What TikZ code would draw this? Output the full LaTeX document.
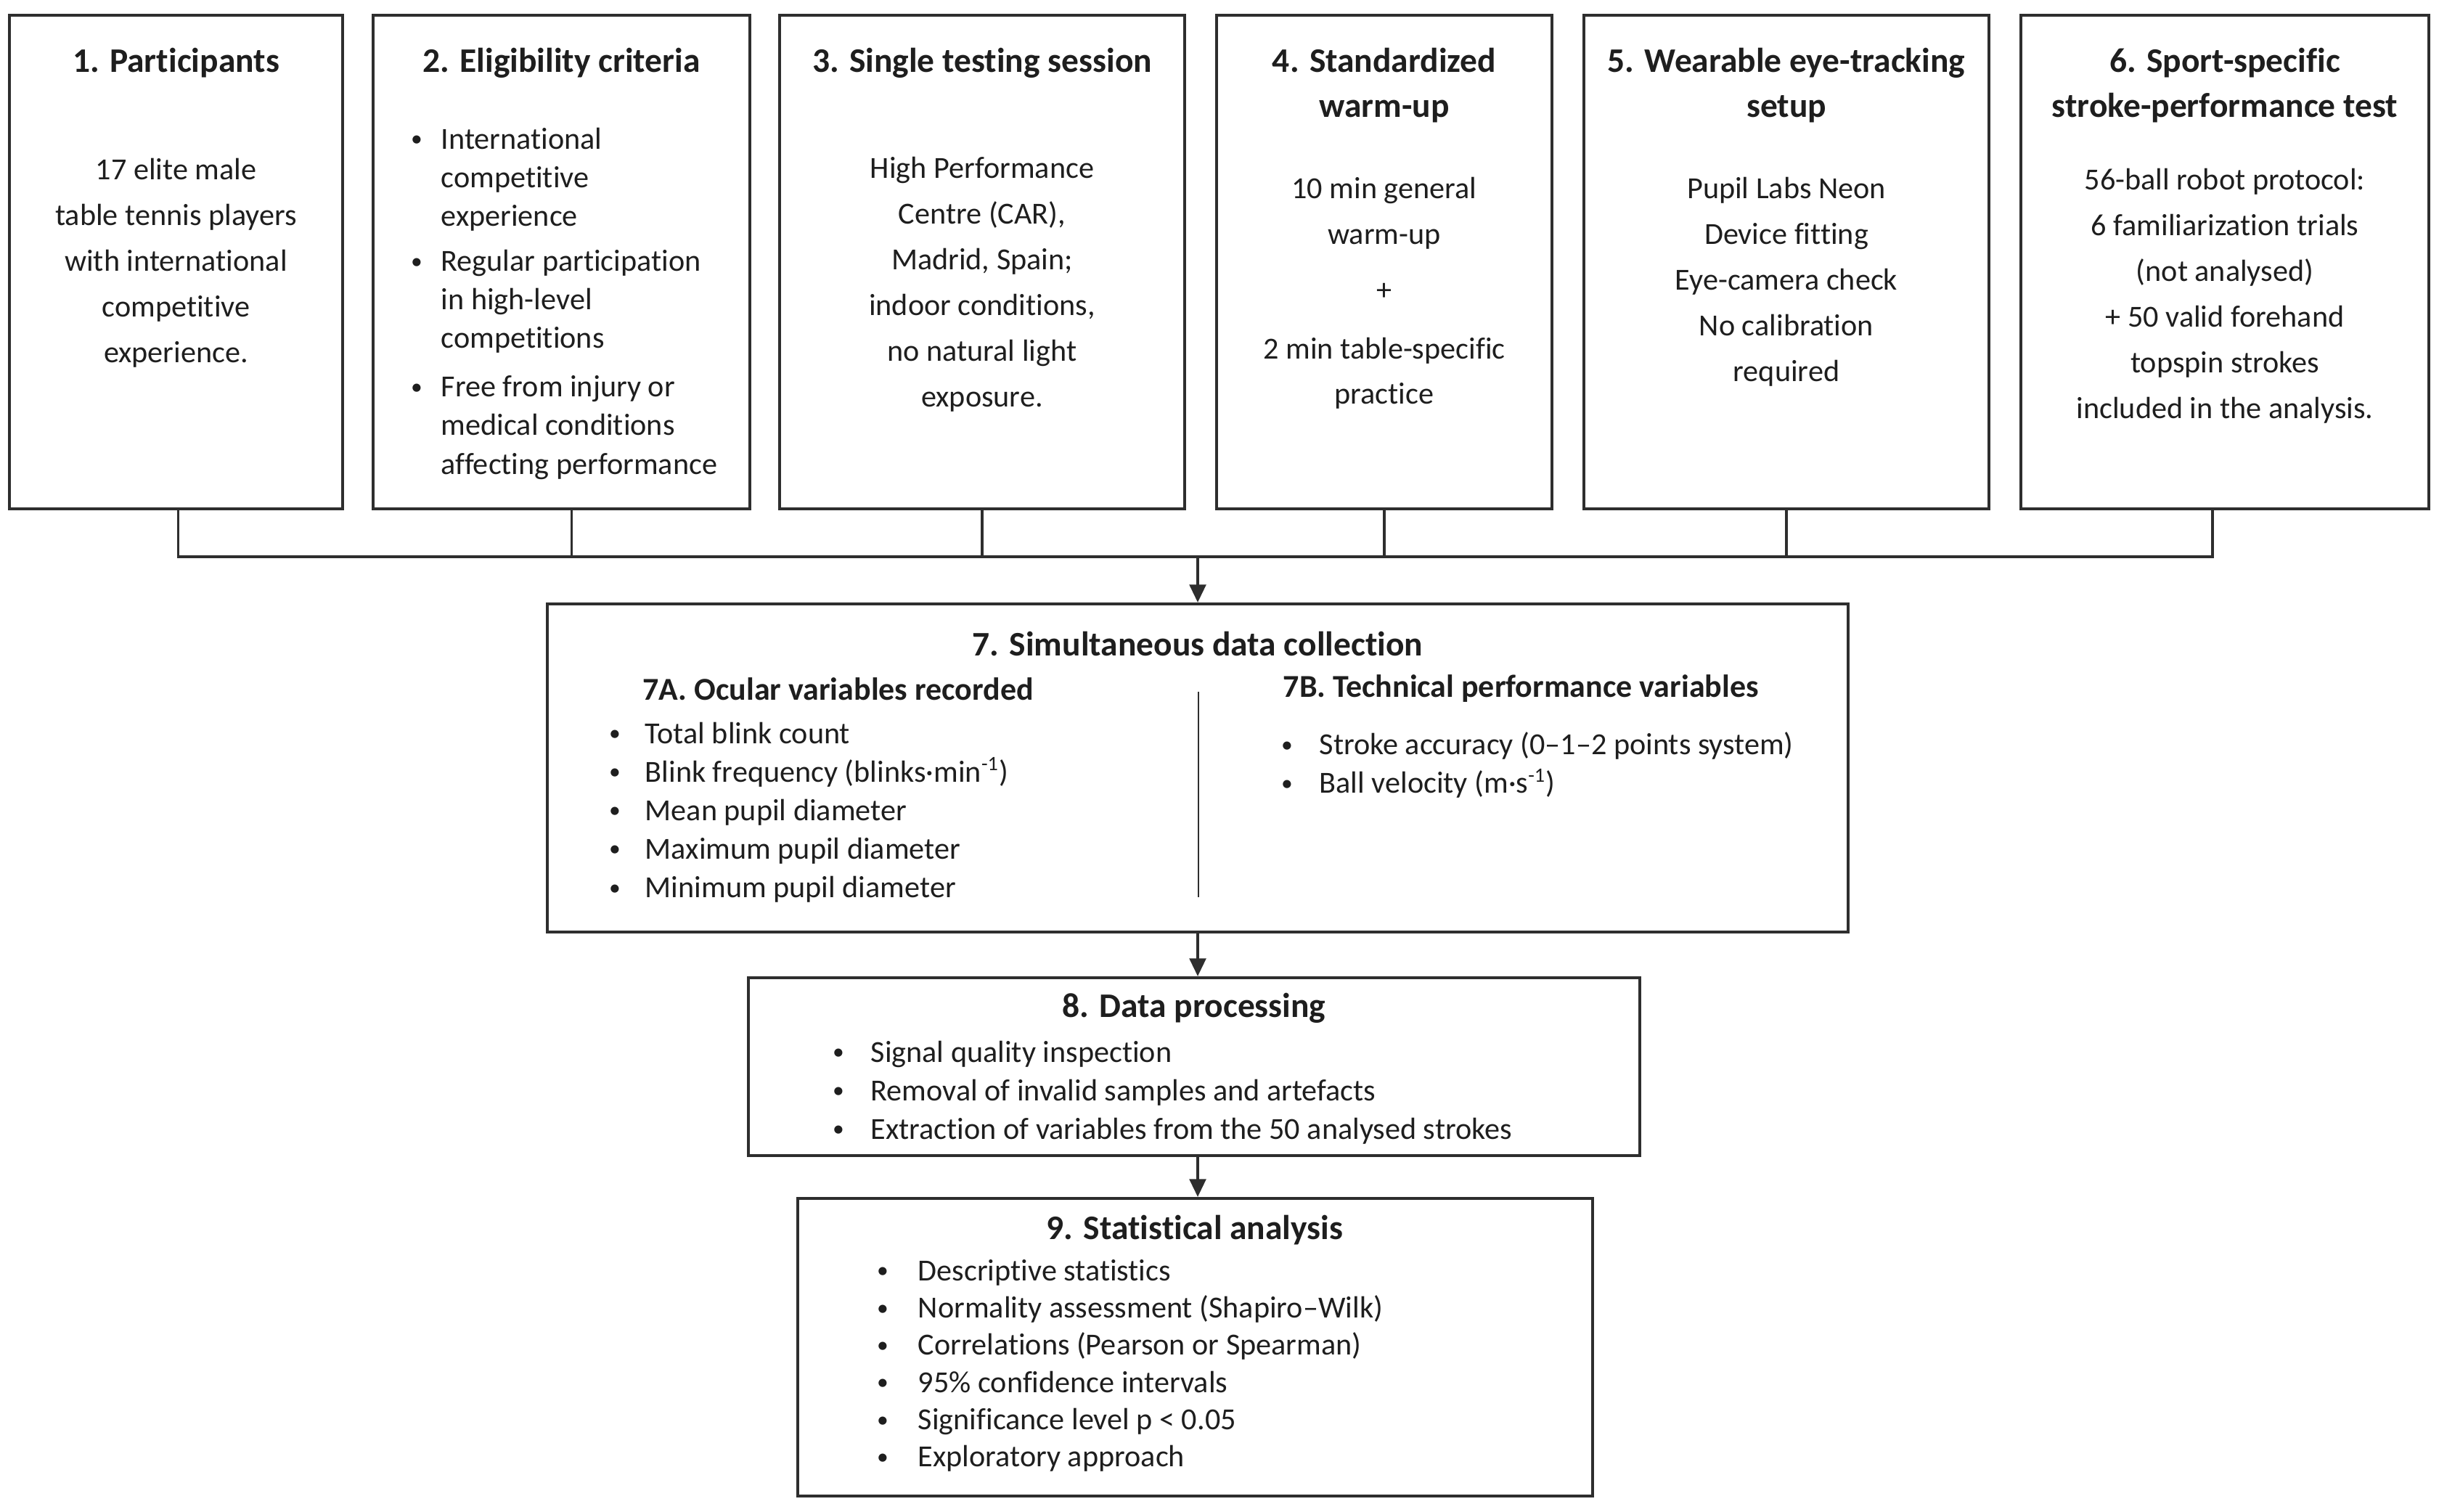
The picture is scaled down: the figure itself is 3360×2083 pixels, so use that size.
\documentclass[tikz,border=0pt]{standalone}
\usepackage{fontspec}
\usepackage{graphicx}
\setmainfont{Carlito}[Ligatures={NoCommon,NoRare}]
\usetikzlibrary{arrows.meta,fit}
\definecolor{ink}{HTML}{1E1E1E}
\definecolor{edge}{HTML}{2E2E2E}
\newcommand\bul[1]{\makebox[#1][l]{\hspace{0.08em}\raisebox{0.08em}{\scalebox{0.75}{\textbullet}}}}
\begin{document}
\begin{tikzpicture}[x=0.01cm,y=-0.01cm,
  box/.style={draw=edge, line width=1.2pt, fill=white, inner sep=0pt},
  conn/.style={draw=edge, line width=0.9pt},
  arr/.style={conn, -{Triangle[length=7pt,width=6.5pt]}},
  ttl/.style={font=\bfseries\fontsize{13.5}{17.6}\selectfont, text=ink, align=center, inner sep=0pt},
  body/.style={font=\fontsize{12}{17.9}\selectfont, text=ink, align=center, inner sep=0pt},
  lst/.style={font=\fontsize{12}{15.1}\selectfont, text=ink, align=left, inner sep=0pt, anchor=west},
  sub/.style={font=\bfseries\fontsize{12.5}{15}\selectfont, text=ink, inner sep=0pt, anchor=west}]
\useasboundingbox (0,0) rectangle (3360,2083);
\fill[white] (0,0) rectangle (3360,2083);
% boxes
\node[box, fit={(13,21) (472,701)}] (b1) {};
\node[box, fit={(514,21) (1033,701)}] (b2) {};
\node[box, fit={(1074,21) (1632,701)}] (b3) {};
\node[box, fit={(1676,21) (2138,701)}] (b4) {};
\node[box, fit={(2182,21) (2740,701)}] (b5) {};
\node[box, fit={(2784,21) (3346,701)}] (b6) {};
\node[box, fit={(754,832) (2546,1284)}] (b7) {};
\node[box, fit={(1031,1347) (2259,1592)}] (b8) {};
\node[box, fit={(1099,1651) (2194,2061)}] (b9) {};
% connectors
\coordinate (bus) at (1650,767);
\draw[conn] ([xshift=0.03cm]b1.south) |- (bus);
\draw[conn] ([xshift=0.14cm]b2.south) |- (bus);
\draw[conn] (b3.south) |- (bus);
\draw[conn] (b4.south) |- (bus);
\draw[conn] (b5.south) |- (bus);
\draw[conn] ([xshift=-0.17cm]b6.south) |- (bus);
\draw[arr] (bus) -- (b7.north);
\draw[arr] (b7.south) -- (b7.south |- b8.north);
\draw[arr] (b8.south -| b7.south) -- (b9.north -| b7.south);
% box 1
\node[ttl] (t1) at (242.5,87) {1. Participants};
\node[body] (d1) at (242.5,362) {17 elite male\\table tennis players\\with international\\competitive\\experience.};
% box 2
\node[ttl] (t2) at (773.5,87) {2. Eligibility criteria};
\node[lst] (d2) at (562,418) {\bul{12.8pt}International\\\hspace*{12.8pt}competitive\\\hspace*{12.8pt}experience\\[2.6pt]%
\bul{12.8pt}Regular participation\\\hspace*{12.8pt}in high-level\\\hspace*{12.8pt}competitions\\[4pt]%
\bul{12.8pt}Free from injury or\\\hspace*{12.8pt}medical conditions\\\hspace*{12.8pt}affecting performance};
% box 3
\node[ttl] (t3) at (1353,87) {3. Single testing session};
\node[body] (d3) at (1353,391.5) {High Performance\\Centre (CAR),\\Madrid, Spain;\\indoor conditions,\\no natural light\\exposure.};
% box 4
\node[ttl] (t4) at (1907,118) {4. Standardized\\warm-up};
\node[body] (d4) at (1907,404) {10 min general\\warm-up\\[4pt]+\\[5pt]2 min table-specific\\practice};
% box 5
\node[ttl] (t5) at (2461,118) {5. Wearable eye-tracking\\setup};
\node[body] (d5) at (2461,388) {Pupil Labs Neon\\Device fitting\\Eye-camera check\\No calibration\\required};
% box 6
\node[ttl] (t6) at (3065,118) {6. Sport-specific\\stroke-performance test};
\node[body] (d6) at (3065,408) {56-ball robot protocol:\\6 familiarization trials\\(not analysed)\\+ 50 valid forehand\\topspin strokes\\included in the analysis.};
% box 7
\node[ttl] (t7) at (1650,887) {7. Simultaneous data collection};
\node[sub] (h7a) at (885,949) {7A. Ocular variables recorded};
\node[sub] (h7b) at (1767,949) {7B. Technical performance variables};
\coordinate (dv1) at (1651,953);
\coordinate (dv2) at (1651,1236);
\draw[conn, line width=0.8pt] (dv1) -- (dv2);
\node[lst] (l7a) at (835,1119) {\bul{15.1pt}Total blink count\\\bul{15.1pt}Blink frequency (blinks·min\textsuperscript{-1})\\\bul{15.1pt}Mean pupil diameter\\\bul{15.1pt}Maximum pupil diameter\\\bul{15.1pt}Minimum pupil diameter};
\node[lst] (l7b) at (1761,1054) {\bul{15.9pt}Stroke accuracy (0–1–2 points system)\\\bul{15.9pt}Ball velocity (m·s\textsuperscript{-1})};
% box 8
\node[ttl] (t8) at (1645,1389) {8. Data processing};
\node[lst] (l8) at (1143,1505) {\bul{15.9pt}Signal quality inspection\\\bul{15.9pt}Removal of invalid samples and artefacts\\\bul{15.9pt}Extraction of variables from the 50 analysed strokes};
% box 9
\node[ttl] (t9) at (1646,1695) {9. Statistical analysis};
\node[lst, font=\fontsize{12}{14.6}\selectfont] (l9) at (1204,1881.5) {\bul{17.1pt}Descriptive statistics\\\bul{17.1pt}Normality assessment (Shapiro–Wilk)\\\bul{17.1pt}Correlations (Pearson or Spearman)\\\bul{17.1pt}95\% confidence intervals\\\bul{17.1pt}Significance level p < 0.05\\\bul{17.1pt}Exploratory approach};
\end{tikzpicture}
\end{document}
